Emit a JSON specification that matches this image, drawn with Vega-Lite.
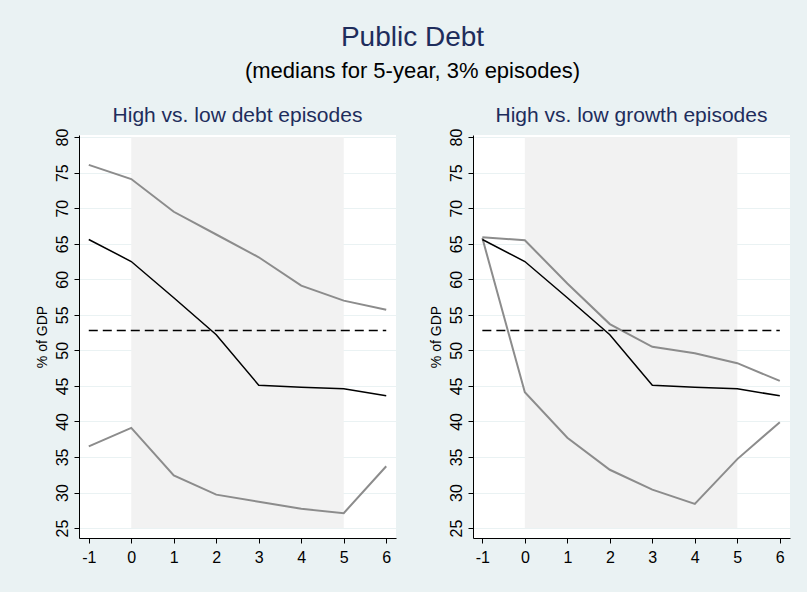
{
  "$schema": "https://vega.github.io/schema/vega-lite/v6.json",
  "background": "#EAF2F3",
  "padding": {"left": 34, "top": 24, "right": 17, "bottom": 35},
  "spacing": 32,
  "title": {
    "text": "Public Debt",
    "subtitle": "(medians for 5-year, 3% episodes)",
    "fontSize": 28,
    "font": "Liberation Sans",
    "fontWeight": "normal",
    "color": "#1E2D5C",
    "subtitleFontSize": 22,
    "subtitleFont": "Liberation Sans",
    "subtitleColor": "#000000",
    "subtitlePadding": 9,
    "anchor": "middle",
    "offset": 23
  },
  "datasets": {
    "shade": [{"x0": 0, "x1": 5, "y0": 25, "y1": 80}],
    "ref": [{"a": -1, "b": 6, "v": 52.8}],
    "left": [
      {"s": "hi", "t": -1, "v": 76.1}, {"s": "hi", "t": 0, "v": 74.1}, {"s": "hi", "t": 1, "v": 69.5}, {"s": "hi", "t": 2, "v": 66.3},
      {"s": "hi", "t": 3, "v": 63.1}, {"s": "hi", "t": 4, "v": 59.1}, {"s": "hi", "t": 5, "v": 57.0}, {"s": "hi", "t": 6, "v": 55.7},
      {"s": "mid", "t": -1, "v": 65.6}, {"s": "mid", "t": 0, "v": 62.5}, {"s": "mid", "t": 1, "v": 57.4}, {"s": "mid", "t": 2, "v": 52.2},
      {"s": "mid", "t": 3, "v": 45.1}, {"s": "mid", "t": 4, "v": 44.8}, {"s": "mid", "t": 5, "v": 44.6}, {"s": "mid", "t": 6, "v": 43.6},
      {"s": "lo", "t": -1, "v": 36.5}, {"s": "lo", "t": 0, "v": 39.1}, {"s": "lo", "t": 1, "v": 32.4}, {"s": "lo", "t": 2, "v": 29.7},
      {"s": "lo", "t": 3, "v": 28.7}, {"s": "lo", "t": 4, "v": 27.7}, {"s": "lo", "t": 5, "v": 27.1}, {"s": "lo", "t": 6, "v": 33.7}
    ],
    "right": [
      {"s": "hi", "t": -1, "v": 65.9}, {"s": "hi", "t": 0, "v": 65.5}, {"s": "hi", "t": 1, "v": 59.4}, {"s": "hi", "t": 2, "v": 53.7},
      {"s": "hi", "t": 3, "v": 50.5}, {"s": "hi", "t": 4, "v": 49.6}, {"s": "hi", "t": 5, "v": 48.2}, {"s": "hi", "t": 6, "v": 45.7},
      {"s": "mid", "t": -1, "v": 65.6}, {"s": "mid", "t": 0, "v": 62.5}, {"s": "mid", "t": 1, "v": 57.4}, {"s": "mid", "t": 2, "v": 52.2},
      {"s": "mid", "t": 3, "v": 45.1}, {"s": "mid", "t": 4, "v": 44.8}, {"s": "mid", "t": 5, "v": 44.6}, {"s": "mid", "t": 6, "v": 43.6},
      {"s": "lo", "t": -1, "v": 65.8}, {"s": "lo", "t": 0, "v": 44.1}, {"s": "lo", "t": 1, "v": 37.7}, {"s": "lo", "t": 2, "v": 33.2},
      {"s": "lo", "t": 3, "v": 30.4}, {"s": "lo", "t": 4, "v": 28.4}, {"s": "lo", "t": 5, "v": 34.7}, {"s": "lo", "t": 6, "v": 39.9}
    ]
  },
  "hconcat": [
    {
      "width": 317,
      "height": 403,
      "title": {"text": "High vs. low debt episodes"},
      "layer": [
        {
          "data": {"name": "shade"},
          "mark": {"type": "rect", "color": "#F2F2F2"},
          "encoding": {
            "x": {"field": "x0", "type": "quantitative", "scale": {"domain": [-1.23, 6.23], "nice": false, "zero": false},
                  "axis": {"values": [-1, 0, 1, 2, 3, 4, 5, 6], "tickCount": 20, "title": null, "grid": false}},
            "x2": {"field": "x1"},
            "y": {"field": "y0", "type": "quantitative", "scale": {"domain": [23.6, 80.3], "nice": false, "zero": false},
                  "axis": {"values": [25, 30, 35, 40, 45, 50, 55, 60, 65, 70, 75, 80], "tickCount": 20, "title": "% of GDP"}},
            "y2": {"field": "y1"}
          }
        },
        {
          "data": {"name": "left"},
          "transform": [{"filter": "datum.s != 'mid'"}],
          "mark": {"type": "line", "color": "#8C8C8C", "strokeWidth": 2},
          "encoding": {
            "x": {"field": "t", "type": "quantitative"},
            "y": {"field": "v", "type": "quantitative"},
            "detail": {"field": "s"}
          }
        },
        {
          "data": {"name": "left"},
          "transform": [{"filter": "datum.s == 'mid'"}],
          "mark": {"type": "line", "color": "#000000", "strokeWidth": 1.5},
          "encoding": {
            "x": {"field": "t", "type": "quantitative"},
            "y": {"field": "v", "type": "quantitative"}
          }
        },
        {
          "data": {"name": "ref"},
          "mark": {"type": "rule", "color": "#000000", "strokeWidth": 1.5, "strokeDash": [9, 5]},
          "encoding": {
            "x": {"field": "a", "type": "quantitative"},
            "x2": {"field": "b"},
            "y": {"field": "v", "type": "quantitative"}
          }
        }
      ]
    },
    {
      "width": 317,
      "height": 403,
      "title": {"text": "High vs. low growth episodes"},
      "layer": [
        {
          "data": {"name": "shade"},
          "mark": {"type": "rect", "color": "#F2F2F2"},
          "encoding": {
            "x": {"field": "x0", "type": "quantitative", "scale": {"domain": [-1.22, 6.24], "nice": false, "zero": false},
                  "axis": {"values": [-1, 0, 1, 2, 3, 4, 5, 6], "tickCount": 20, "title": null, "grid": false}},
            "x2": {"field": "x1"},
            "y": {"field": "y0", "type": "quantitative", "scale": {"domain": [23.6, 80.3], "nice": false, "zero": false},
                  "axis": {"values": [25, 30, 35, 40, 45, 50, 55, 60, 65, 70, 75, 80], "tickCount": 20, "title": "% of GDP"}},
            "y2": {"field": "y1"}
          }
        },
        {
          "data": {"name": "right"},
          "transform": [{"filter": "datum.s != 'mid'"}],
          "mark": {"type": "line", "color": "#8C8C8C", "strokeWidth": 2},
          "encoding": {
            "x": {"field": "t", "type": "quantitative"},
            "y": {"field": "v", "type": "quantitative"},
            "detail": {"field": "s"}
          }
        },
        {
          "data": {"name": "right"},
          "transform": [{"filter": "datum.s == 'mid'"}],
          "mark": {"type": "line", "color": "#000000", "strokeWidth": 1.5},
          "encoding": {
            "x": {"field": "t", "type": "quantitative"},
            "y": {"field": "v", "type": "quantitative"}
          }
        },
        {
          "data": {"name": "ref"},
          "mark": {"type": "rule", "color": "#000000", "strokeWidth": 1.5, "strokeDash": [9, 5]},
          "encoding": {
            "x": {"field": "a", "type": "quantitative"},
            "x2": {"field": "b"},
            "y": {"field": "v", "type": "quantitative"}
          }
        }
      ]
    }
  ],
  "config": {
    "font": "Liberation Sans",
    "view": {"fill": "#FFFFFF", "stroke": null},
    "title": {"fontSize": 21, "fontWeight": "normal", "color": "#1E2D5C", "offset": 2, "font": "Liberation Sans"},
    "axis": {
      "domainColor": "#000000",
      "domainWidth": 1,
      "tickColor": "#000000",
      "tickSize": 5,
      "tickWidth": 1,
      "labelFont": "Liberation Sans",
      "labelFontSize": 16,
      "labelColor": "#000000",
      "labelOverlap": false,
      "labelExpr": "datum.value + ''",
      "titleFont": "Liberation Sans",
      "titleFontSize": 14,
      "titleFontWeight": "normal",
      "titleColor": "#000000",
      "gridColor": "#EAF2F3",
      "gridWidth": 1
    },
    "axisY": {"labelAngle": 270, "labelPadding": 4, "titlePadding": 5},
    "axisX": {"labelPadding": 6}
  }
}
